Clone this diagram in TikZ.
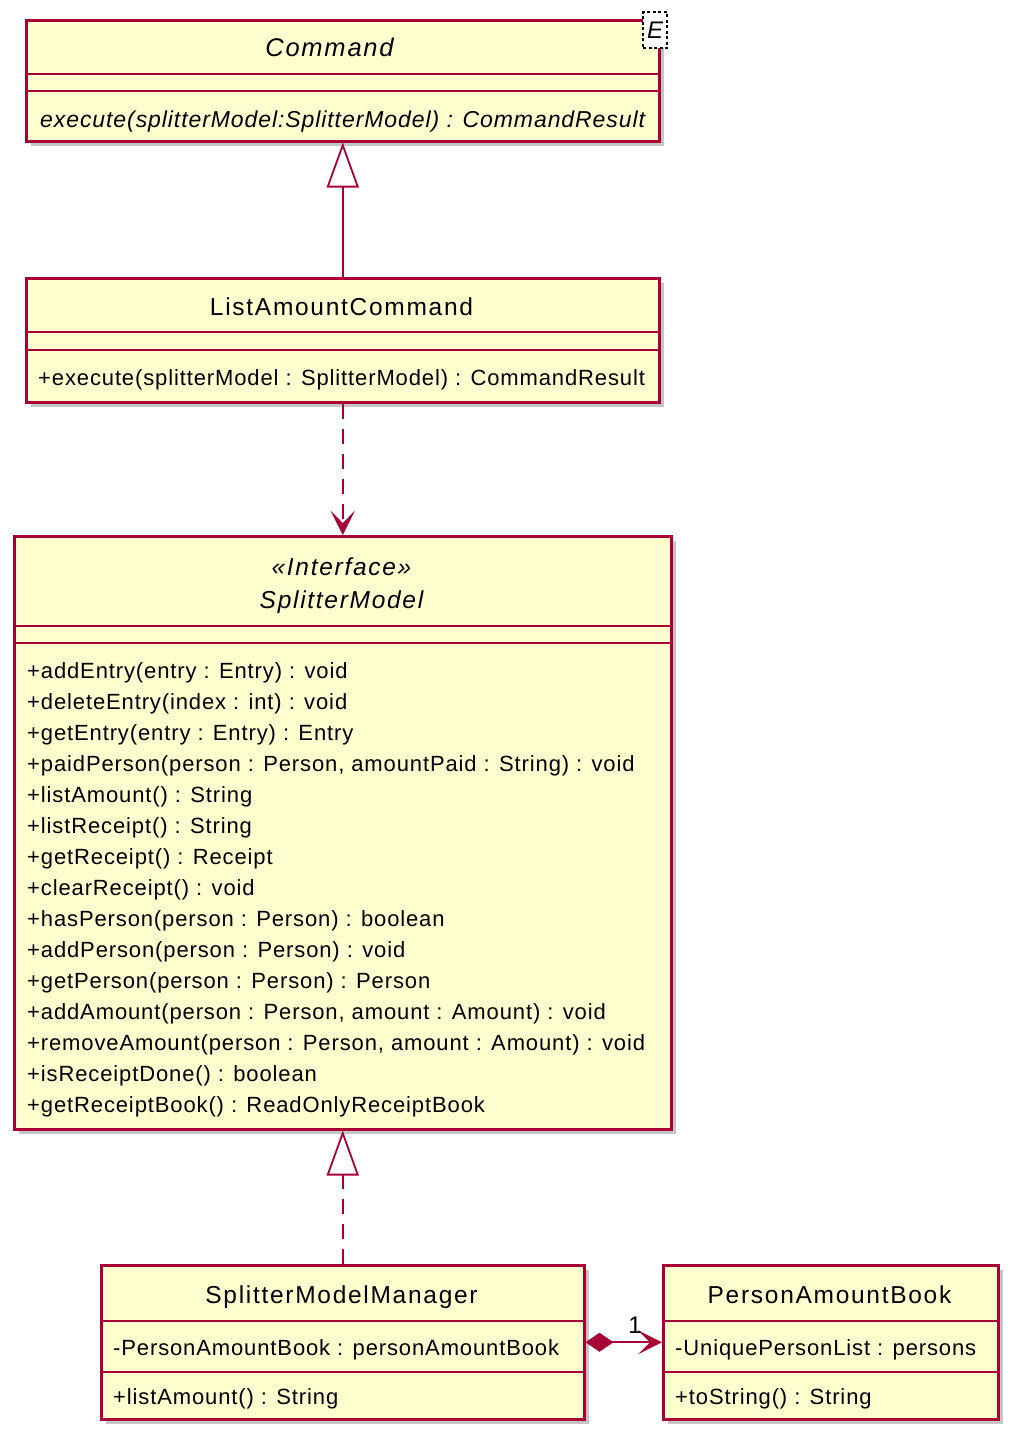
\documentclass[tikz,border=0pt]{standalone}
\usepackage{fontspec}
\setmainfont{Liberation Sans}
\newfontfamily\umlfont[LetterSpace=4]{Liberation Sans}
\newfontfamily\umltitlefont[LetterSpace=7]{Liberation Sans}
\usetikzlibrary{arrows.meta, shadows}
\definecolor{umlred}{HTML}{A80036}
\definecolor{umlfill}{HTML}{FEFECE}
\tikzset{
  classbox/.style={draw=umlred, fill=umlfill, line width=2.5pt, rectangle, inner sep=0pt, anchor=north west,
    drop shadow={shadow xshift=5pt, shadow yshift=-5pt, fill=black!45}},
  sep/.style={draw=umlred, line width=2.5pt},
  member/.style={anchor=base west, inner sep=0pt, font=\umlfont\fontsize{22}{26}\selectfont},
  title/.style={anchor=base, inner sep=0pt, font=\umltitlefont\fontsize{24.5}{29}\selectfont},
  link/.style={draw=umlred, line width=1.8pt},
  dashes/.style={dash pattern=on 15pt off 10pt},
  inherit/.style={-{Triangle[open, length=45pt, width=32pt, fill=white]}},
  openarrow/.style={-{Stealth[length=24pt, width=24pt, inset=12pt]}},
}

\begin{document}
\begin{tikzpicture}[x=1pt, y=-1pt]
    \useasboundingbox (0,0) rectangle (1020,1441);

    % Command
    \node [classbox, minimum width=633pt, minimum height=121pt] (cmd) at (25,19) {};
    \draw [sep] ([yshift=-55pt]cmd.north west) -- ([yshift=-55pt]cmd.north east);
    \draw [sep] ([yshift=-72pt]cmd.north west) -- ([yshift=-72pt]cmd.north east);
    \node [title, font=\umltitlefont\itshape\fontsize{25.5}{30}\selectfont] (cmdname) at (329.5,56) {Command};
    \node [member, font=\umlfont\itshape\fontsize{23}{27}\selectfont] (cmdexec) at (40,127) {execute(splitterModel:SplitterModel) : CommandResult};
    \node [draw, fill=white, dash pattern=on 3pt off 2.5pt, line width=1.3pt, minimum width=24pt, minimum height=36pt, inner sep=0pt,
           font=\itshape\fontsize{24}{28}\selectfont] (cmdtype) at (655,30) {E};

    % ListAmountCommand
    \node [classbox, minimum width=633pt, minimum height=124pt] (lac) at (25,277) {};
    \draw [sep] ([yshift=-55pt]lac.north west) -- ([yshift=-55pt]lac.north east);
    \draw [sep] ([yshift=-73pt]lac.north west) -- ([yshift=-73pt]lac.north east);
    \node [title] (lacname) at (341.5,315) {ListAmountCommand};
    \node [member] (lacexec) at (38,385) {+execute(splitterModel : SplitterModel) : CommandResult};

    % SplitterModel
    \node [classbox, minimum width=657pt, minimum height=593pt] (sm) at (13,535) {};
    \draw [sep] ([yshift=-91pt]sm.north west) -- ([yshift=-91pt]sm.north east);
    \draw [sep] ([yshift=-108pt]sm.north west) -- ([yshift=-108pt]sm.north east);
    \node [title, font=\umltitlefont\itshape\fontsize{24.5}{29}\selectfont] (smstereo) at (341.5,575) {«Interface»};
    \node [title, font=\umltitlefont\itshape\fontsize{24.5}{29}\selectfont] (smname) at (341.5,608) {SplitterModel};
    \foreach \m [count=\i from 0] in {
        {+addEntry(entry : Entry) : void},
        {+deleteEntry(index : int) : void},
        {+getEntry(entry : Entry) : Entry},
        {+paidPerson(person : Person, amountPaid : String) : void},
        {+listAmount() : String},
        {+listReceipt() : String},
        {+getReceipt() : Receipt},
        {+clearReceipt() : void},
        {+hasPerson(person : Person) : boolean},
        {+addPerson(person : Person) : void},
        {+getPerson(person : Person) : Person},
        {+addAmount(person : Person, amount : Amount) : void},
        {+removeAmount(person : Person, amount : Amount) : void},
        {+isReceiptDone() : boolean},
        {+getReceiptBook() : ReadOnlyReceiptBook}}
        \node [member] (smop\i) at (27,678+31.07*\i) {\m};

    % SplitterModelManager
    \node [classbox, minimum width=483pt, minimum height=154pt] (smm) at (100,1264) {};
    \draw [sep] ([yshift=-57pt]smm.north west) -- ([yshift=-57pt]smm.north east);
    \draw [sep] ([yshift=-108pt]smm.north west) -- ([yshift=-108pt]smm.north east);
    \node [title] (smmname) at (341.5,1303) {SplitterModelManager};
    \node [member] (smmbook) at (113,1355) {-PersonAmountBook : personAmountBook};
    \node [member] (smmlist) at (113,1404) {+listAmount() : String};

    % PersonAmountBook
    \node [classbox, minimum width=335pt, minimum height=154pt] (pab) at (662,1264) {};
    \draw [sep] ([yshift=-57pt]pab.north west) -- ([yshift=-57pt]pab.north east);
    \draw [sep] ([yshift=-108pt]pab.north west) -- ([yshift=-108pt]pab.north east);
    \node [title] (pabname) at (829.5,1303) {PersonAmountBook};
    \node [member] (pabpersons) at (675,1355) {-UniquePersonList : persons};
    \node [member] (pabstr) at (675,1404) {+toString() : String};

    % relations
    \draw [link, inherit] (lac.north) -- (cmd.south);
    \draw [link, dashes, openarrow] (lac.south) -- (sm.north);
    \draw [link, dashes, inherit] (smm.north) -- (sm.south);
    \draw [link, {Diamond[length=28pt, width=19pt]}-{Stealth[length=24pt, width=24pt, inset=12pt]}] (smm.east) -- (pab.west);
    \node [font=\fontsize{24}{28}\selectfont, inner sep=0pt] (mult) at (635,1325) {1};
\end{tikzpicture}
\end{document}
